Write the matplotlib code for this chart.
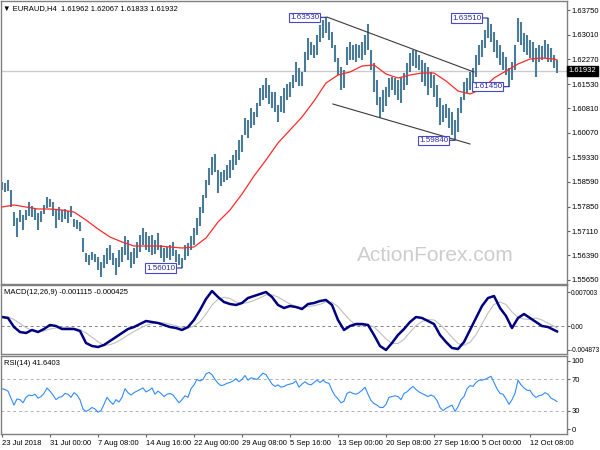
import numpy as np
import matplotlib
matplotlib.use("Agg")
import matplotlib.pyplot as plt

plt.rcParams['font.family'] = ['Liberation Sans', 'DejaVu Sans']

# --- data (one bar = 8h, two H4 candles) ---
highs = [1.5859, 1.5856, 1.5865, 1.5835, 1.5769, 1.5751, 1.5775, 1.5760, 1.5775, 1.5799,
         1.5787, 1.5781, 1.5766, 1.5772, 1.5790, 1.5814, 1.5808, 1.5799, 1.5775, 1.5784,
         1.5775, 1.5778, 1.5772, 1.5787, 1.5748, 1.5745, 1.5739, 1.5691, 1.5646, 1.5640,
         1.5649, 1.5643, 1.5634, 1.5619, 1.5640, 1.5661, 1.5670, 1.5646, 1.5631, 1.5655,
         1.5664, 1.5697, 1.5685, 1.5649, 1.5661, 1.5679, 1.5700, 1.5721, 1.5709, 1.5697,
         1.5700, 1.5685, 1.5706, 1.5670, 1.5661, 1.5664, 1.5670, 1.5679, 1.5655, 1.5643,
         1.5631, 1.5670, 1.5676, 1.5697, 1.5721, 1.5751, 1.5784, 1.5820, 1.5865, 1.5901,
         1.5934, 1.5943, 1.5895, 1.5889, 1.5895, 1.5910, 1.5925, 1.5940, 1.5955, 1.5985,
         1.6000, 1.6051, 1.6045, 1.6081, 1.6069, 1.6096, 1.6141, 1.6150, 1.6171, 1.6150,
         1.6129, 1.6129, 1.6090, 1.6117, 1.6141, 1.6153, 1.6159, 1.6180, 1.6219, 1.6201,
         1.6189, 1.6249, 1.6291, 1.6279, 1.6270, 1.6300, 1.6330, 1.6345, 1.6353, 1.6339,
         1.6309, 1.6270, 1.6231, 1.6204, 1.6195, 1.6264, 1.6279, 1.6270, 1.6273, 1.6270,
         1.6279, 1.6300, 1.6333, 1.6255, 1.6216, 1.6165, 1.6114, 1.6135, 1.6144, 1.6171,
         1.6174, 1.6171, 1.6165, 1.6174, 1.6186, 1.6216, 1.6246, 1.6255, 1.6255, 1.6240,
         1.6225, 1.6216, 1.6204, 1.6189, 1.6180, 1.6150, 1.6111, 1.6090, 1.6093, 1.6081,
         1.6069, 1.6045, 1.6081, 1.6114, 1.6159, 1.6171, 1.6189, 1.6201, 1.6240, 1.6270,
         1.6285, 1.6315, 1.6351, 1.6333, 1.6309, 1.6285, 1.6270, 1.6249, 1.6234, 1.6201,
         1.6219, 1.6270, 1.6350, 1.6339, 1.6306, 1.6300, 1.6285, 1.6279, 1.6261, 1.6270,
         1.6267, 1.6285, 1.6273, 1.6261, 1.6240, 1.6225]
lows = [1.5835, 1.5829, 1.5832, 1.5784, 1.5727, 1.5694, 1.5739, 1.5715, 1.5745, 1.5757,
        1.5754, 1.5745, 1.5715, 1.5739, 1.5763, 1.5781, 1.5784, 1.5757, 1.5721, 1.5745,
        1.5739, 1.5748, 1.5736, 1.5754, 1.5724, 1.5718, 1.5712, 1.5649, 1.5619, 1.5610,
        1.5625, 1.5619, 1.5595, 1.5574, 1.5601, 1.5613, 1.5625, 1.5610, 1.5580, 1.5604,
        1.5619, 1.5640, 1.5625, 1.5601, 1.5613, 1.5631, 1.5649, 1.5670, 1.5655, 1.5649,
        1.5640, 1.5643, 1.5655, 1.5631, 1.5619, 1.5631, 1.5625, 1.5637, 1.5619, 1.5610,
        1.5601, 1.5625, 1.5637, 1.5655, 1.5670, 1.5700, 1.5727, 1.5766, 1.5811, 1.5850,
        1.5880, 1.5889, 1.5826, 1.5847, 1.5859, 1.5865, 1.5871, 1.5895, 1.5910, 1.5925,
        1.5949, 1.6000, 1.5991, 1.6021, 1.6030, 1.6054, 1.6087, 1.6105, 1.6111, 1.6093,
        1.6081, 1.6069, 1.6039, 1.6069, 1.6066, 1.6105, 1.6114, 1.6141, 1.6159, 1.6147,
        1.6147, 1.6189, 1.6225, 1.6240, 1.6231, 1.6240, 1.6279, 1.6291, 1.6306, 1.6285,
        1.6261, 1.6219, 1.6180, 1.6135, 1.6141, 1.6210, 1.6225, 1.6225, 1.6219, 1.6231,
        1.6225, 1.6240, 1.6255, 1.6195, 1.6129, 1.6090, 1.6051, 1.6069, 1.6087, 1.6114,
        1.6135, 1.6120, 1.6105, 1.6096, 1.6135, 1.6150, 1.6189, 1.6207, 1.6201, 1.6195,
        1.6159, 1.6147, 1.6120, 1.6141, 1.6114, 1.6084, 1.6030, 1.6039, 1.6051, 1.6021,
        1.6000, 1.5984, 1.6009, 1.6066, 1.6105, 1.6126, 1.6135, 1.6150, 1.6174, 1.6210,
        1.6234, 1.6261, 1.6291, 1.6279, 1.6249, 1.6231, 1.6210, 1.6195, 1.6180, 1.6145,
        1.6165, 1.6195, 1.6279, 1.6270, 1.6249, 1.6240, 1.6231, 1.6219, 1.6174, 1.6219,
        1.6225, 1.6231, 1.6219, 1.6219, 1.6201, 1.6186]
last_close = 1.61932

# moving average, every 4th bar plus the last one
ma_values = [1.5784, 1.5790, 1.5784, 1.5778, 1.5778, 1.5775, 1.5769, 1.5745, 1.5718, 1.5694,
             1.5679, 1.5667, 1.5667, 1.5667, 1.5664, 1.5661, 1.5664, 1.5691, 1.5739, 1.5775,
             1.5823, 1.5877, 1.5925, 1.5976, 1.6015, 1.6054, 1.6102, 1.6156, 1.6180, 1.6189,
             1.6207, 1.6210, 1.6183, 1.6171, 1.6180, 1.6186, 1.6186, 1.6162, 1.6132, 1.6123,
             1.6138, 1.6171, 1.6192, 1.6213, 1.6228, 1.6231, 1.6228, 1.6225]

# MACD main and signal, every 2nd bar plus the last one
macd_main = [0.00185, 0.00165, -0.00021, -0.00124, -0.00144, -0.00082, -0.00124, -0.00062, 0.00021, 0.0,
             -0.00062, -0.00062, -0.00062, -0.00103, -0.00350, -0.00412, -0.00433, -0.00391, -0.00309, -0.00227,
             -0.00144, -0.00062, -0.00021, 0.00041, 0.00103, 0.00082, 0.00062, 0.00021, -0.00021, -0.00041,
             -0.00082, -0.00021, 0.00124, 0.00330, 0.00556, 0.00721, 0.00597, 0.00494, 0.00453, 0.00433,
             0.00474, 0.00577, 0.00618, 0.00659, 0.00700, 0.00597, 0.00433, 0.00371, 0.00412, 0.00391,
             0.00350, 0.00453, 0.00474, 0.00515, 0.00536, 0.00433, 0.00124, -0.00082, 0.0, 0.00041,
             0.00041, 0.00021, -0.00185, -0.00412, -0.00494, -0.00350, -0.00185, -0.00062, 0.00082, 0.00185,
             0.00165, 0.00103, 0.00041, -0.00185, -0.00330, -0.00453, -0.00474, -0.00330, -0.00082, 0.00165,
             0.00412, 0.00577, 0.00618, 0.00371, 0.00206, -0.00041, 0.00165, 0.00247, 0.00165, 0.00082,
             0.0, -0.00021, -0.00082, -0.001115]
macd_signal = [0.00200, 0.00188, 0.00132, 0.00051, -0.00031, -0.00093, -0.00119, -0.00103, -0.00062, -0.00041,
               -0.00026, -0.00026, -0.00047, -0.00072, -0.00144, -0.00232, -0.00325, -0.00397, -0.00386, -0.00340,
               -0.00268, -0.00186, -0.00114, -0.00047, 0.00015, 0.00051, 0.00072, 0.00067, 0.00036, 0.00005,
               -0.00031, -0.00041, -0.00005, 0.00088, 0.00247, 0.00433, 0.00551, 0.00592, 0.00566, 0.00494,
               0.00464, 0.00484, 0.00526, 0.00582, 0.00639, 0.00644, 0.00597, 0.00525, 0.00453, 0.00402,
               0.00381, 0.00402, 0.00417, 0.00448, 0.00495, 0.00490, 0.00402, 0.00253, 0.00119, 0.00021,
               0.0, 0.00026, -0.00021, -0.00134, -0.00268, -0.00360, -0.00360, -0.00273, -0.00129, 0.00005,
               0.00093, 0.00134, 0.00124, 0.00031, -0.00093, -0.00232, -0.00361, -0.00397, -0.00335, -0.00180,
               0.00041, 0.00268, 0.00443, 0.00495, 0.00443, 0.00289, 0.00175, 0.00144, 0.00134, 0.00165,
               0.00124, 0.00057, -0.00005, -0.000425]

# RSI(14), one value per bar
rsi_values = [58, 57, 55, 46, 37, 45, 44, 40, 47, 50, 49, 51, 46, 48, 52, 59, 55, 50, 44, 47,
              48, 52, 51, 47, 53, 50, 44, 32, 29, 31, 34, 32, 28, 30, 38, 47, 42, 38, 44, 41,
              47, 58, 53, 50, 53, 55, 57, 59, 54, 56, 59, 51, 55, 52, 48, 51, 52, 50, 45, 40,
              44, 49, 47, 58, 63, 70, 68, 70, 77, 79, 76, 70, 65, 62, 63, 65, 66, 68, 71, 67,
              70, 75, 69, 72, 71, 70, 74, 78, 76, 70, 64, 61, 63, 60, 61, 63, 64, 65, 68, 60,
              64, 67, 64, 63, 66, 69, 66, 69, 66, 65, 56, 49, 45, 40, 42, 52, 54, 52, 51, 53,
              56, 60, 51, 43, 39, 37, 34, 34, 38, 47, 48, 49, 48, 44, 52, 54, 58, 61, 57, 54,
              52, 50, 48, 50, 48, 43, 34, 30, 33, 35, 37, 29, 35, 44, 48, 58, 62, 61, 66, 69,
              69, 70, 72, 74, 66, 58, 52, 51, 45, 38, 44, 52, 69, 63, 59, 56, 56, 50, 47, 49,
              50, 53, 51, 46, 44, 41.64]

# swing labels (bar index, price)
label_bars = [60, 108, 151, 169, 162]
label_prices = [1.56010, 1.63530, 1.59840, 1.61450, 1.63510]
# channel lines (bar index, price)
channel_upper = ([108.3, 157.3], [1.6354, 1.6189])
channel_lower = ([110.3, 156.0], [1.6093, 1.5973])

price_ticks = [1.63750, 1.63010, 1.62270, 1.61530, 1.60810, 1.60070,
               1.59330, 1.58590, 1.57850, 1.57110, 1.56390, 1.55650]
date_ticks = ["23 Jul 2018", "31 Jul 00:00", "7 Aug 08:00", "14 Aug 16:00",
              "22 Aug 00:00", "29 Aug 08:00", "5 Sep 16:00", "13 Sep 00:00",
              "20 Sep 08:00", "27 Sep 16:00", "5 Oct 00:00", "12 Oct 08:00"]

n = len(highs)
bar_x = np.arange(n)
ma_x = list(range(0, n - 1, 4)) + [n - 1]
macd_x = list(range(0, n - 1, 2)) + [n - 1]
tick_x = np.arange(len(date_ticks)) * 16

W, H = 600, 450
fig = plt.figure(figsize=(6, 4.5), dpi=100)

def box(x0, y0, x1, y1):
    return [x0 / W, 1 - y1 / H, (x1 - x0) / W, (y1 - y0) / H]

ax = fig.add_axes(box(1, 1, 567, 284))
ax_macd = fig.add_axes(box(1, 285, 567, 354))
ax_rsi = fig.add_axes(box(1, 356, 567, 434))

for a in (ax, ax_macd, ax_rsi):
    a.set_xlim(-0.33, 188.33)
    for s in a.spines.values():
        s.set_color('#808080')
        s.set_linewidth(1)
    a.yaxis.tick_right()
    a.tick_params(axis='y', labelsize=5.5, length=2, pad=1.5, color='#606060')
    a.tick_params(axis='x', bottom=False, labelbottom=False)

# main price panel
ax.set_ylim(1.5553, 1.6402)
ax.axhline(last_close, color='#cccccc', lw=1, zorder=0)
ax.text(0.768, 0.1, 'ActionForex.com', transform=ax.transAxes, fontsize=15,
        color='#cdcdcd', ha='center', va='center', zorder=0)
ax.vlines(bar_x, lows, highs, color='#4a7b98', lw=1.5, zorder=2)
ax.plot(ma_x, ma_values, color='#ff2a2a', lw=0.9, zorder=3)
ax.plot(*channel_upper, color='#3a3a3a', lw=0.8, zorder=3)
ax.plot(*channel_lower, color='#3a3a3a', lw=0.8, zorder=3)
for i, p in zip(label_bars, label_prices):
    ax.annotate('%.5f' % p, xy=(i, p), xytext=(-5, 0), textcoords='offset points',
                ha='right', va='center', fontsize=5.8, color='#2c2ca0', zorder=5,
                bbox=dict(boxstyle='square,pad=0.15', fc='white', ec='#4848c8', lw=0.8),
                arrowprops=dict(arrowstyle='-', color='#2c2ca0', lw=0.8,
                                shrinkA=0, shrinkB=0))
ax.set_yticks(price_ticks)
ax.set_yticklabels(['%.5f' % t for t in price_ticks])
ax.text(0.003, 0.975, '\u25bc EURAUD,H4  1.61962 1.62067 1.61833 1.61932',
        transform=ax.transAxes, fontsize=5.5, va='center', ha='left')
ax.text(1.003, last_close, '%.5f' % last_close, transform=ax.get_yaxis_transform(),
        fontsize=5.5, color='white', va='center', ha='left', clip_on=False,
        bbox=dict(boxstyle='square,pad=0.2', fc='black', ec='black'))

# MACD panel
ax_macd.set_ylim(-0.00577, 0.00845)
ax_macd.axhline(0, color='#808080', lw=0.7, ls=(0, (3, 3)))
ax_macd.plot(macd_x, macd_signal, color='#c0c0c0', lw=0.8)
ax_macd.plot(macd_x, macd_main, color='#000080', lw=1.8)
ax_macd.set_yticks([0.007003, 0.0, -0.004873])
ax_macd.set_yticklabels(['0.007003', '0.00', '-0.004873'])
ax_macd.tick_params(axis='y', labelsize=4.7, pad=1)
ax_macd.text(0.006, 0.885, 'MACD(12,26,9) -0.001115 -0.000425', transform=ax_macd.transAxes,
             fontsize=5.5, va='center', ha='left')

# RSI panel
ax_rsi.set_ylim(0, 100)
for lvl in (70, 30):
    ax_rsi.axhline(lvl, color='#b0b0b0', lw=0.7, ls=(0, (3, 3)))
ax_rsi.plot(bar_x, rsi_values, color='#2f8cff', lw=0.8)
ax_rsi.set_yticks([93.6, 70, 30, 6.4])
ax_rsi.set_yticklabels(['100', '70', '30', '0'])
ax_rsi.text(0.006, 0.91, 'RSI(14) 41.6403', transform=ax_rsi.transAxes,
            fontsize=5.5, va='center', ha='left')
ax_rsi.set_xticks(tick_x)
ax_rsi.set_xticklabels(date_ticks)
ax_rsi.tick_params(axis='x', bottom=True, labelbottom=True, labelsize=5.5,
                   length=2.5, pad=1.5, color='#606060')
for lbl in ax_rsi.get_xticklabels():
    lbl.set_ha('left')

fig.savefig('out.png', dpi=100)
